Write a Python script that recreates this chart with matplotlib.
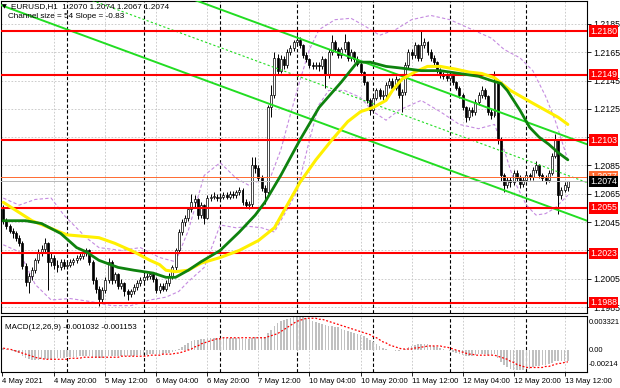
import matplotlib
matplotlib.use("Agg")
import matplotlib.pyplot as plt
import numpy as np
from matplotlib import transforms

plt.rcParams['font.family'] = ['Liberation Sans', 'DejaVu Sans']

# ---------------- data ----------------
first_bar = 4  # hourly bar index counted from 4 May 00:00 (weekend skipped)

opens = [1.2054, 1.2046, 1.2042, 1.2039, 1.2037, 1.2034, 1.2030, 1.2014, 1.2003, 1.2007,
         1.2011, 1.2018, 1.2024, 1.2026, 1.2030, 1.2017, 1.2020, 1.2015, 1.2013, 1.2017,
         1.2014, 1.2015, 1.2017, 1.2018, 1.2020, 1.2021, 1.2023, 1.2025, 1.2017, 1.2004,
         1.1998, 1.1991, 1.1997, 1.2004, 1.2017, 1.2004, 1.2008, 1.2000, 1.2002, 1.1996,
         1.1994, 1.1996, 1.1999, 1.2002, 1.2004, 1.2006, 1.2007, 1.2008, 1.2005, 1.1997,
         1.2000, 1.1998, 1.2002, 1.2007, 1.2013, 1.2025, 1.2038, 1.2045, 1.2048, 1.2054,
         1.2059, 1.2061, 1.2050, 1.2057, 1.2048, 1.2062, 1.2063, 1.2063, 1.2062, 1.2063,
         1.2064, 1.2063, 1.2065, 1.2064, 1.2066, 1.2068, 1.2059, 1.2057, 1.2058, 1.2085,
         1.2083, 1.2076, 1.2069, 1.2066, 1.2126, 1.2135, 1.2161, 1.2152, 1.2160, 1.2156,
         1.2165, 1.2168, 1.2172, 1.2174, 1.2170, 1.2163, 1.2160, 1.2156, 1.2155, 1.2156,
         1.2155, 1.2160, 1.2149, 1.2165, 1.2172, 1.2167, 1.2163, 1.2167, 1.2172, 1.2161,
         1.2165, 1.2160, 1.2157, 1.2151, 1.2144, 1.2131, 1.2124, 1.2133, 1.2138, 1.2134,
         1.2135, 1.2142, 1.2145, 1.2140, 1.2146, 1.2135, 1.2137, 1.2156, 1.2165, 1.2163,
         1.2170, 1.2161, 1.2170, 1.2172, 1.2165, 1.2161, 1.2158, 1.2152, 1.2149, 1.2148,
         1.2147, 1.2149, 1.2144, 1.2140, 1.2135, 1.2126, 1.2119, 1.2124, 1.2123, 1.2130,
         1.2135, 1.2138, 1.2134, 1.2123, 1.2121, 1.2144, 1.2103, 1.2078, 1.2071, 1.2075,
         1.2073, 1.2080, 1.2076, 1.2072, 1.2075, 1.2078, 1.2077, 1.2082, 1.2085, 1.2078,
         1.2076, 1.2075, 1.2080, 1.2092, 1.2103, 1.2064, 1.2068, 1.2070]

closes = [1.2046, 1.2042, 1.2039, 1.2037, 1.2034, 1.2030, 1.2014, 1.2003, 1.2007, 1.2011,
          1.2018, 1.2024, 1.2026, 1.2030, 1.2017, 1.2020, 1.2015, 1.2013, 1.2017, 1.2014,
          1.2015, 1.2017, 1.2018, 1.2020, 1.2021, 1.2023, 1.2025, 1.2017, 1.2004, 1.1998,
          1.1991, 1.1997, 1.2004, 1.2017, 1.2004, 1.2008, 1.2000, 1.2002, 1.1996, 1.1994,
          1.1996, 1.1999, 1.2002, 1.2004, 1.2006, 1.2007, 1.2008, 1.2005, 1.1997, 1.2000,
          1.1998, 1.2002, 1.2007, 1.2013, 1.2025, 1.2038, 1.2045, 1.2048, 1.2054, 1.2059,
          1.2061, 1.2050, 1.2057, 1.2048, 1.2062, 1.2063, 1.2063, 1.2062, 1.2063, 1.2064,
          1.2063, 1.2065, 1.2064, 1.2066, 1.2068, 1.2059, 1.2057, 1.2058, 1.2085, 1.2083,
          1.2076, 1.2069, 1.2066, 1.2126, 1.2135, 1.2161, 1.2152, 1.2160, 1.2156, 1.2165,
          1.2168, 1.2172, 1.2174, 1.2170, 1.2163, 1.2160, 1.2156, 1.2155, 1.2156, 1.2155,
          1.2160, 1.2149, 1.2165, 1.2172, 1.2167, 1.2163, 1.2167, 1.2172, 1.2161, 1.2165,
          1.2160, 1.2157, 1.2151, 1.2144, 1.2131, 1.2124, 1.2133, 1.2138, 1.2134, 1.2135,
          1.2142, 1.2145, 1.2140, 1.2146, 1.2135, 1.2137, 1.2156, 1.2165, 1.2163, 1.2170,
          1.2161, 1.2170, 1.2172, 1.2165, 1.2161, 1.2158, 1.2152, 1.2149, 1.2148, 1.2147,
          1.2149, 1.2144, 1.2140, 1.2135, 1.2126, 1.2119, 1.2124, 1.2123, 1.2130, 1.2135,
          1.2138, 1.2134, 1.2123, 1.2121, 1.2144, 1.2103, 1.2078, 1.2071, 1.2075, 1.2073,
          1.2080, 1.2076, 1.2072, 1.2075, 1.2078, 1.2077, 1.2082, 1.2085, 1.2078, 1.2076,
          1.2075, 1.2080, 1.2092, 1.2103, 1.2064, 1.2068, 1.2071, 1.2074]

highs = [1.2057, 1.2048, 1.2044, 1.2041, 1.2039, 1.2036, 1.2032, 1.2016, 1.2009, 1.2013,
         1.2020, 1.2026, 1.2029, 1.2034, 1.2031, 1.2023, 1.2022, 1.2018, 1.2019, 1.2019,
         1.2018, 1.2019, 1.2020, 1.2022, 1.2023, 1.2025, 1.2027, 1.2026, 1.2018, 1.2006,
         1.2000, 1.1999, 1.2006, 1.2020, 1.2018, 1.2010, 1.2009, 1.2005, 1.2003, 1.1998,
         1.1998, 1.2001, 1.2004, 1.2006, 1.2008, 1.2009, 1.2010, 1.2010, 1.2006, 1.2002,
         1.2002, 1.2004, 1.2009, 1.2015, 1.2027, 1.2040, 1.2047, 1.2050, 1.2056, 1.2065,
         1.2064, 1.2062, 1.2059, 1.2058, 1.2064, 1.2065, 1.2066, 1.2065, 1.2065, 1.2066,
         1.2066, 1.2067, 1.2067, 1.2068, 1.2070, 1.2069, 1.2061, 1.2060, 1.2091, 1.2091,
         1.2085, 1.2078, 1.2071, 1.2128, 1.2142, 1.2165, 1.2164, 1.2163, 1.2162, 1.2167,
         1.2170, 1.2174, 1.2177, 1.2176, 1.2171, 1.2165, 1.2161, 1.2158, 1.2158, 1.2158,
         1.2162, 1.2161, 1.2167, 1.2177, 1.2174, 1.2169, 1.2169, 1.2178, 1.2173, 1.2167,
         1.2166, 1.2162, 1.2158, 1.2152, 1.2145, 1.2133, 1.2135, 1.2140, 1.2140, 1.2138,
         1.2144, 1.2147, 1.2147, 1.2148, 1.2147, 1.2139, 1.2158, 1.2167, 1.2167, 1.2172,
         1.2171, 1.2181, 1.2175, 1.2173, 1.2167, 1.2163, 1.2159, 1.2154, 1.2151, 1.2150,
         1.2151, 1.2150, 1.2145, 1.2141, 1.2136, 1.2127, 1.2126, 1.2126, 1.2132, 1.2137,
         1.2141, 1.2140, 1.2135, 1.2125, 1.2152, 1.2146, 1.2105, 1.2080, 1.2077, 1.2077,
         1.2082, 1.2082, 1.2078, 1.2077, 1.2080, 1.2080, 1.2084, 1.2088, 1.2086, 1.2080,
         1.2078, 1.2082, 1.2094, 1.2107, 1.2104, 1.2070, 1.2073, 1.2074]

lows = [1.2044, 1.2040, 1.2037, 1.2034, 1.2032, 1.2028, 1.2012, 1.2000, 1.1995, 1.2004,
        1.2009, 1.2016, 1.2021, 1.2024, 1.1997, 1.2014, 1.2012, 1.2010, 1.2011, 1.2012,
        1.2012, 1.2013, 1.2015, 1.2016, 1.2018, 1.2019, 1.2021, 1.2015, 1.2001, 1.1995,
        1.1986, 1.1988, 1.1995, 1.2002, 1.2001, 1.2002, 1.1998, 1.1998, 1.1993, 1.1990,
        1.1992, 1.1994, 1.1997, 1.2000, 1.2002, 1.2004, 1.2005, 1.2003, 1.1995, 1.1995,
        1.1996, 1.1996, 1.2000, 1.2005, 1.2011, 1.2023, 1.2036, 1.2042, 1.2046, 1.2052,
        1.2056, 1.2047, 1.2048, 1.2044, 1.2047, 1.2060, 1.2061, 1.2060, 1.2060, 1.2061,
        1.2061, 1.2061, 1.2062, 1.2062, 1.2064, 1.2057, 1.2055, 1.2054, 1.2056, 1.2080,
        1.2074, 1.2067, 1.2058, 1.2064, 1.2119, 1.2133, 1.2149, 1.2150, 1.2153, 1.2154,
        1.2163, 1.2166, 1.2170, 1.2168, 1.2161, 1.2158, 1.2154, 1.2153, 1.2153, 1.2152,
        1.2153, 1.2140, 1.2147, 1.2163, 1.2165, 1.2161, 1.2161, 1.2165, 1.2159, 1.2159,
        1.2158, 1.2155, 1.2149, 1.2142, 1.2129, 1.2121, 1.2122, 1.2131, 1.2132, 1.2131,
        1.2133, 1.2140, 1.2138, 1.2138, 1.2133, 1.2123, 1.2135, 1.2154, 1.2160, 1.2161,
        1.2159, 1.2159, 1.2168, 1.2163, 1.2159, 1.2156, 1.2150, 1.2147, 1.2146, 1.2145,
        1.2145, 1.2142, 1.2138, 1.2133, 1.2124, 1.2116, 1.2117, 1.2120, 1.2121, 1.2128,
        1.2133, 1.2132, 1.2121, 1.2118, 1.2119, 1.2100, 1.2074, 1.2066, 1.2069, 1.2070,
        1.2071, 1.2074, 1.2069, 1.2070, 1.2073, 1.2075, 1.2075, 1.2080, 1.2076, 1.2074,
        1.2072, 1.2073, 1.2078, 1.2090, 1.2051, 1.2061, 1.2066, 1.2067]

# moving averages (vertices)
ma_fast_idx = [4, 11, 16, 22, 27, 30, 34, 40, 45, 51, 55, 58, 62, 66, 72, 78, 83, 86, 91, 97,
               103, 110, 115, 119, 124, 128, 135, 141, 147, 153, 157, 160, 162, 166, 169, 172,
               175, 178, 181]
ma_fast = [1.2046, 1.2046, 1.2044, 1.2037, 1.2027, 1.2024, 1.2018, 1.2013, 1.2011, 1.2009,
           1.2006, 1.2006, 1.2011, 1.2017, 1.2025, 1.2038, 1.2050, 1.2059, 1.2078, 1.2103,
           1.2126, 1.2144, 1.2158, 1.2158, 1.2155, 1.2154, 1.2152, 1.2152, 1.2150, 1.2148,
           1.2145, 1.2143, 1.2138, 1.2124, 1.2112, 1.2105, 1.2100, 1.2094, 1.2089]
ma_slow_idx = [4, 13, 24, 34, 39, 45, 50, 53, 55, 58, 62, 66, 72, 78, 84, 89, 94, 97, 102, 107,
               112, 116, 120, 124, 126, 129, 133, 137, 141, 146, 150, 154, 158, 163, 170, 174,
               178, 181]
ma_slow = [1.2059, 1.2046, 1.2036, 1.2034, 1.2030, 1.2024, 1.2018, 1.2015, 1.2011, 1.2010,
           1.2011, 1.2016, 1.2020, 1.2025, 1.2032, 1.2041, 1.2061, 1.2073, 1.2089, 1.2103,
           1.2116, 1.2123, 1.2126, 1.2131, 1.2138, 1.2146, 1.2151, 1.2155, 1.2155, 1.2153,
           1.2151, 1.2150, 1.2147, 1.2138, 1.2129, 1.2124, 1.2119, 1.2114]

# bands (purple dashed)
bb_up_idx = [4, 9, 14, 19, 23, 30, 34, 41, 47, 53, 58, 62, 67, 72, 77, 81, 85, 88, 91, 94,
             97, 100, 103, 108, 113, 117, 122, 127, 132, 138, 144, 150, 157, 161, 166, 170,
             174, 177, 181]
bb_up = [1.2062, 1.2057, 1.2061, 1.2062, 1.2050, 1.2034, 1.2027, 1.2025, 1.2027, 1.2020,
         1.2017, 1.2039, 1.2078, 1.2087, 1.2076, 1.2071, 1.2075, 1.2078, 1.2096, 1.2121,
         1.2145, 1.2167, 1.2181, 1.2188, 1.2189, 1.2184, 1.2177, 1.2181, 1.2188, 1.2191,
         1.2188, 1.2182, 1.2175, 1.2167, 1.2161, 1.2152, 1.2134, 1.2117, 1.2089]
bb_lo_idx = [4, 9, 14, 19, 25, 31, 38, 44, 50, 55, 59, 62, 67, 72, 77, 81, 85, 89, 92, 96,
             100, 103, 106, 111, 116, 120, 124, 128, 135, 141, 147, 153, 158, 161, 164, 168,
             171, 174, 177, 181]
bb_lo = [1.2029, 1.2024, 1.2001, 1.1990, 1.1991, 1.1989, 1.1986, 1.1986, 1.1990, 1.1992,
         1.1996, 1.2003, 1.2013, 1.2043, 1.2041, 1.2042, 1.2041, 1.2038, 1.2050, 1.2066,
         1.2103, 1.2128, 1.2138, 1.2138, 1.2133, 1.2123, 1.2117, 1.2124, 1.2131, 1.2123,
         1.2114, 1.2111, 1.2114, 1.2096, 1.2075, 1.2057, 1.2050, 1.2051, 1.2055, 1.2064]

# regression channel (anchors) : size 54 pips
chan_idx = [0, 187]
chan_mid = [1.2228, 1.2073]
chan_half = 0.0027

# horizontal levels
red_levels = [1.2180, 1.2149, 1.2103, 1.2055, 1.2023, 1.1988]
ask_level = 1.2077
bid_level = 1.2074
price_ticks = [1.2185, 1.2165, 1.2145, 1.2125, 1.2105, 1.2085, 1.2065, 1.2045, 1.2025, 1.2005, 1.1985]
hidden_ticks = [1.2105, 1.2025]  # covered by level labels in the reference

# time axis
sep_idx = [24, 48, 72, 96, 120, 144, 168]
time_idx = [3.6, 20, 36, 52, 68, 84, 100, 116, 132, 148, 164, 180]
time_labels = ['4 May 2021', '4 May 20:00', '5 May 12:00', '6 May 04:00', '6 May 20:00',
               '7 May 12:00', '10 May 04:00', '10 May 20:00', '11 May 12:00', '12 May 04:00',
               '12 May 20:00', '13 May 12:00']

# MACD (units of 1e-4)
macd_main = [2, 1, 0, -1, -2, -3,
             -6, -8, -9, -10, -10, -10, -9,
             -9, -9, -9, -8, -8, -8, -8,
             -7, -7, -7, -7, -6, -6, -6, -6, -7, -7, -8, -8,
             -7, -6, -6, -6, -6, -6, -6, -6, -6, -6, -5, -5,
             -5, -5, -4, -4, -4, -4, -4, -3, -3,
             -2, -1, 1, 3, 5, 7,
             9, 10, 10, 11, 11, 12, 12, 12,
             12, 12, 12, 12, 12, 12, 12, 12, 11, 11, 11, 12,
             13, 13, 13, 13, 17, 20,
             23, 26, 28, 29, 30, 31, 32, 33,
             33, 32, 31, 30, 28, 27, 26, 25,
             24, 23, 23, 22, 22, 21, 20, 19,
             18, 17, 16, 15, 14, 12, 10, 8,
             6, 4, 2, 1, 0, 0, -1, -1,
             0, 1, 3, 4, 5, 6, 6, 6,
             6, 5, 4, 3, 2, 1, 0, -1,
             -2, -3, -4, -5, -6, -6, -6, -5,
             -4, -4, -4, -5, -5, -4,
             -8, -12, -15, -17, -18, -19, -19, -19,
             -19, -18, -18, -17, -16, -16, -15, -15,
             -14, -13, -11, -11, -11, -11, -10.3]
macd_signal = [2, 1, 1, 0, -1, -2,
               -3, -4, -5, -6, -7, -8, -8,
               -9, -9, -9, -9, -9, -9, -9,
               -9, -8, -8, -8, -8, -7, -7, -7, -7, -7, -7, -7,
               -7, -7, -7, -7, -7, -6, -6, -6, -6, -6, -6, -6,
               -6, -6, -5, -5, -5, -5, -4, -4, -4,
               -4, -3, -3, -2, -1, 0,
               1, 3, 4, 6, 7, 8, 9, 10,
               11, 11, 12, 12, 12, 12, 12, 12, 12, 12, 12, 12,
               12, 12, 12, 12, 13, 14,
               15, 16, 18, 20, 22, 24, 26, 28,
               29, 30, 31, 31, 31, 31, 30, 30,
               29, 28, 27, 26, 25, 24, 23, 22,
               21, 20, 19, 18, 17, 16, 15, 13,
               12, 10, 8, 7, 5, 4, 3, 2,
               1, 1, 1, 1, 2, 2, 3, 3,
               4, 4, 4, 4, 4, 3, 3, 2,
               1, 0, -1, -2, -3, -4, -4, -5,
               -5, -5, -5, -5, -5, -5,
               -6, -7, -8, -9, -11, -12, -14, -15,
               -16, -17, -17, -17, -17, -17, -17, -16,
               -16, -15, -14, -13, -13, -12, -11.5]
macd_top = 0.003321
macd_bottom = -0.00214

# ---------------- figure ----------------
W, H = 620, 388
fig = plt.figure(figsize=(W / 100, H / 100), dpi=100)
fig.patch.set_facecolor('white')


def box(l, t, r, b):
    return [l / W, 1 - b / H, (r - l) / W, (b - t) / H]


ax = fig.add_axes(box(1, 1, 587, 313))
ax2 = fig.add_axes(box(1, 316, 587, 372))
XLIM = (3.29, 187.0)

idx = np.arange(first_bar, first_bar + len(closes))
o = np.array(opens); c = np.array(closes); hi = np.array(highs); lo = np.array(lows)

grid_col = '#c4c4c4'
for p in price_ticks:
    ax.axhline(p, color=grid_col, lw=0.6, ls=(0, (2, 2)), zorder=0.5)
for t in time_idx[1:]:
    ax.axvline(t, color=grid_col, lw=0.6, ls=(0, (2, 2)), zorder=0.5)
    ax2.axvline(t, color=grid_col, lw=0.6, ls=(0, (2, 2)), zorder=0.5)
for s in sep_idx:
    ax.axvline(s, color='black', lw=0.8, ls=(0, (3, 2)), zorder=1)
    ax2.axvline(s, color='black', lw=0.8, ls=(0, (3, 2)), zorder=1)

# bands
band_col = '#c58be0'
ax.plot(bb_up_idx, bb_up, color=band_col, lw=0.8, ls=(0, (3, 2)), zorder=2)
ax.plot(bb_lo_idx, bb_lo, color=band_col, lw=0.8, ls=(0, (3, 2)), zorder=2)

# candles
bull = c >= o
body_lo = np.minimum(o, c)
body_h = np.maximum(np.abs(c - o), 0.00004)
ax.vlines(idx, lo, hi, color='black', lw=0.7, zorder=3)
ax.bar(idx, body_h, bottom=body_lo, width=0.62,
       color=np.where(bull, 'white', 'black'), edgecolor='black', linewidth=0.5, zorder=3.1)

# regression channel
ci = np.array(chan_idx); cm = np.array(chan_mid)
lime = '#22dd22'
ax.plot(ci, cm + chan_half, color=lime, lw=1.4, zorder=4)
ax.plot(ci, cm - chan_half, color=lime, lw=1.4, zorder=4)
ax.plot(ci, cm, color=lime, lw=0.8, ls=(0, (2, 2)), zorder=4)

# horizontal levels
for lvl in red_levels:
    ax.axhline(lvl, color='#ff0000', lw=1.5, zorder=4.2)
ax.axhline(ask_level, color='#ff6a30', lw=0.7, zorder=4.1)
ax.axhline(bid_level, color='#b8b8b8', lw=0.7, zorder=4.1)

# moving averages
ax.plot(ma_slow_idx, ma_slow, color='#fff000', lw=2.2, zorder=5, solid_capstyle='round')
ax.plot(ma_fast_idx, ma_fast, color='#0e820e', lw=2.0, zorder=5.1, solid_capstyle='round')

ax.set_xlim(*XLIM)
ax.set_ylim(1.19808, 1.22012)
ax.set_xticks([])
ax.yaxis.tick_right()
ax.set_yticks(price_ticks)
ax.set_yticklabels(['' if p in hidden_ticks else f'{p:.4f}' for p in price_ticks])
ax.tick_params(axis='y', length=3, width=0.6, pad=1.5, labelsize=6.3, direction='out')
for sp in ax.spines.values():
    sp.set_linewidth(0.8)

lab_tr = transforms.offset_copy(ax.get_yaxis_transform(), fig=fig, x=3, y=0, units='dots')
for lvl in red_levels:
    ax.text(1.0, lvl, f'{lvl:.4f}', transform=lab_tr, ha='left', va='center', fontsize=6.3,
            color='white', bbox=dict(boxstyle='square,pad=0.12', fc='#ff0000', ec='none'),
            zorder=10, clip_on=False)
ax.text(1.0, ask_level, f'{ask_level:.4f}', transform=lab_tr, ha='left', va='center', fontsize=6.3,
        color='white', bbox=dict(boxstyle='square,pad=0.12', fc='#ff6a30', ec='none'),
        zorder=10, clip_on=False)
ax.text(1.0, bid_level, f'{bid_level:.4f}', transform=lab_tr, ha='left', va='center', fontsize=6.3,
        color='white', bbox=dict(boxstyle='square,pad=0.12', fc='black', ec='none'),
        zorder=11, clip_on=False)

# MACD pane
ax2.bar(idx, np.array(macd_main) * 1e-4, width=0.5, color='#c0c0c0', zorder=2)
ax2.plot(idx, np.array(macd_signal) * 1e-4, color='#ff0000', lw=0.9, ls=(0, (1.5, 1.5)), zorder=3)
ax2.set_xlim(*XLIM)
ax2.set_ylim(macd_bottom, macd_top)
ax2.set_yticks([])
ax2.set_xticks(time_idx)
ax2.set_xticklabels(time_labels)
for lb in ax2.get_xticklabels():
    lb.set_ha('left')
ax2.tick_params(axis='x', length=3, width=0.6, pad=1.5, labelsize=5.6)
for sp in ax2.spines.values():
    sp.set_linewidth(0.8)
m_tr = transforms.offset_copy(ax2.transAxes, fig=fig, x=2, y=0, units='dots')
ax2.text(1.0, 0.89, f'{macd_top:.6f}', transform=m_tr, ha='left', va='center', fontsize=5.4, clip_on=False)
ax2.text(1.0, 0.39, '0.00', transform=m_tr, ha='left', va='center', fontsize=5.4, clip_on=False)
ax2.text(1.0, 0.14, f'{macd_bottom:.5f}', transform=m_tr, ha='left', va='center', fontsize=5.4, clip_on=False)
ax2.text(0.007, 0.80, 'MACD(12,26,9) -0.001032 -0.001153', transform=ax2.transAxes,
         ha='left', va='center', fontsize=5.8, zorder=10)

# header
fig.text(2 / W, 1 - 6.5 / H, '\u25bc', fontsize=4.5, va='center', family=['DejaVu Sans'])
fig.text(11 / W, 1 - 6.5 / H, 'EURUSD,H1  1.2070 1.2074 1.2067 1.2074', fontsize=5.9, va='center')
fig.text(8 / W, 1 - 16.5 / H, 'Channel size = 54 Slope = -0.83', fontsize=5.9, va='center')

fig.savefig('out.png', dpi=100, facecolor='white')
